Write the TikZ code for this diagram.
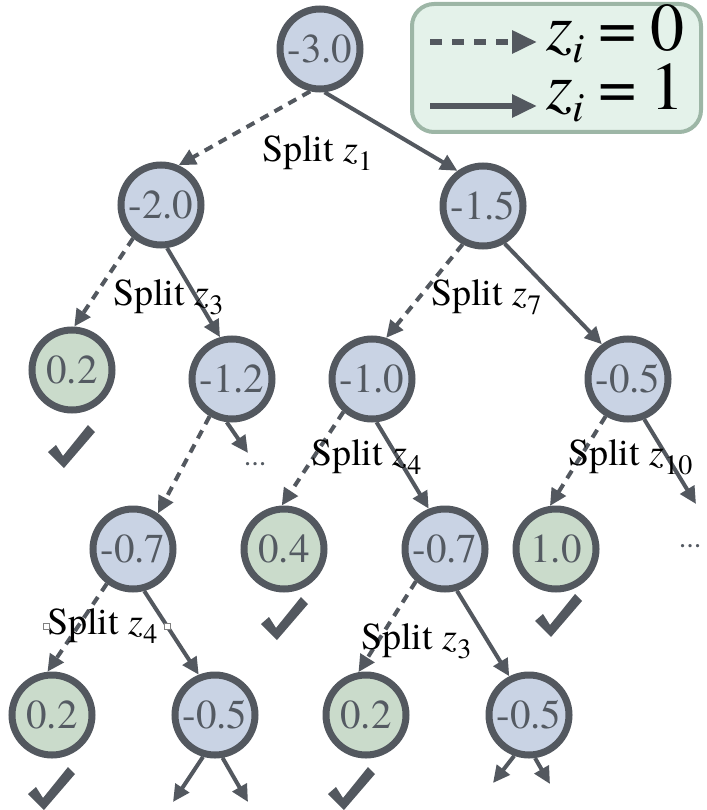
\documentclass[tikz,border=0pt]{standalone}
\usepackage{fontspec}
\setmainfont{TeX Gyre Termes}
\usetikzlibrary{arrows.meta}
\definecolor{edgec}{HTML}{53585F}
\definecolor{valc}{HTML}{545A62}
\definecolor{bluef}{HTML}{C9D3E4}
\definecolor{greenf}{HTML}{CADBCB}
\definecolor{legf}{HTML}{E4F2EA}
\definecolor{legd}{HTML}{9DB6A6}
\newcommand{\splitlab}[1]{Split {\itshape z}\raisebox{-9pt}{\fontsize{28}{28}\selectfont #1}}
\newcommand{\legz}[1]{{\itshape z}\raisebox{-12pt}{\fontsize{42}{42}\selectfont\itshape i}\hspace{14pt}=\hspace{14pt}#1}
\newcommand{\chkmark}[2]{\fill[edgec,shift={(#1,#2)}] (0,27) -- (8,20) -- (15,31) -- (40,0) -- (47,7) -- (16,43) -- cycle;}
\begin{document}
\begin{tikzpicture}[x=1pt,y=-1pt,
  tn/.style={circle,draw=edgec,line width=7pt,minimum size=80pt,inner sep=0pt,
    text=valc,font=\fontsize{41}{41}\selectfont},
  bn/.style={tn,fill=bluef},
  gn/.style={tn,fill=greenf},
  e1/.style={draw=edgec,line width=4pt,-{Triangle[length=17pt,width=16pt]}},
  e0/.style={e1,dash pattern=on 9pt off 7pt},
  lab/.style={anchor=base west,inner sep=0pt,font=\fontsize{38}{38}\selectfont},
  dots/.style={anchor=base,inner sep=0pt,text=valc,font=\fontsize{30}{30}\selectfont},
  handle/.style={draw=gray,fill=white,line width=0.8pt,minimum size=6pt,inner sep=0pt}
]
\useasboundingbox (0,0) rectangle (706,810);

% legend
\node[draw=legd,fill=legf,line width=4pt,rounded corners=22pt,minimum width=289pt,minimum height=128pt,inner sep=0pt] (leg) at (556.5,68) {};
\coordinate (l0a) at (430,42); \coordinate (l0b) at (537,42);
\coordinate (l1a) at (430,106); \coordinate (l1b) at (537,106);
\draw[draw=edgec,line width=6pt,dash pattern=on 12pt off 10pt,-{Triangle[length=25pt,width=22pt]}] (l0a) -- (l0b);
\draw[draw=edgec,line width=6pt,-{Triangle[length=25pt,width=22pt]}] (l1a) -- (l1b);
\node[anchor=base west,inner sep=0pt,align=left,font=\fontsize{68}{55}\selectfont] (lt) at (546,110) {\legz{0}\\\legz{1}};

% nodes
\node[bn] (root) at (320,49) {-3.0};
\node[bn] (n20) at (161,205) {-2.0};
\node[bn] (n15) at (483,206) {-1.5};
\node[gn] (a02) at (72,370) {0.2};
\node[bn] (n12) at (232,379) {-1.2};
\node[bn] (n10) at (372,379) {-1.0};
\node[bn] (n05) at (628,379) {-0.5};
\node[bn] (n07) at (133,549) {-0.7};
\node[gn] (g04) at (284,549) {0.4};
\node[bn] (n07b) at (445,549) {-0.7};
\node[gn] (g10) at (556,549) {1.0};
\node[gn] (g02c) at (52,715) {0.2};
\node[bn] (n05c) at (215,715) {-0.5};
\node[gn] (g02d) at (366,715) {0.2};
\node[bn] (n05d) at (529,715) {-0.5};

% free ends
\coordinate (d1) at (248,453);
\coordinate (d2) at (696,504);
\coordinate (c1) at (173,802);
\coordinate (c2) at (248,802);
\coordinate (c3) at (493,783);
\coordinate (c4) at (550,784);

% edges
\draw[e0] (root.257) -- (n20.66);
\draw[e1] (root.276) -- (n15.126);
\draw[e0] (n20.230) -- (a02.87);
\draw[e1] (n20.278) -- (n12.106);
\draw[e0] (n15.242) -- (n10.71);
\draw[e1] (n15.300) -- (n05.127);
\draw[e0] (n12.239) -- (n07.55);
\draw[e1] (n12.263) -- (d1);
\draw[e0] (n10.229) -- (g04.93);
\draw[e1] (n10.276) -- (n07b.112);
\draw[e0] (n05.239) -- (g10.98);
\draw[e1] (n05.292) -- (d2);
\draw[e0] (n07.233) -- (g02c.96);
\draw[e1] (n07.285) -- (n05c.112);
\draw[e0] (n07b.228) -- (g02d.100);
\draw[e1] (n07b.286) -- (n05d.117);
\draw[e1] (n05c.254) -- (c1);
\draw[e1] (n05c.280) -- (c2);
\draw[e1] (n05d.250) -- (c3);
\draw[e1] (n05d.278) -- (c4);

% dots
\node[dots] (dt1) at (255,465) {...};
\node[dots] (dt2) at (690,547) {...};

% labels
\node[lab] (s1) at (262,162) {\splitlab{1}};
\node[lab] (s3) at (113,305) {\splitlab{3}};
\node[lab] (s7) at (431,305) {\splitlab{7}};
\node[lab] (s4) at (311,465) {\splitlab{4}};
\node[lab] (s10) at (568,465) {\splitlab{10}};
\node[lab] (s4b) at (47,634) {\splitlab{4}};
\node[lab] (s3b) at (361,649) {\splitlab{3}};
\node[handle] (h1) at (46,626) {};
\node[handle] (h2) at (167,626) {};

% check marks
\chkmark{48}{425}
\chkmark{261}{597}
\chkmark{535}{594}
\chkmark{28}{767}
\chkmark{328}{767}
\end{tikzpicture}
\end{document}
